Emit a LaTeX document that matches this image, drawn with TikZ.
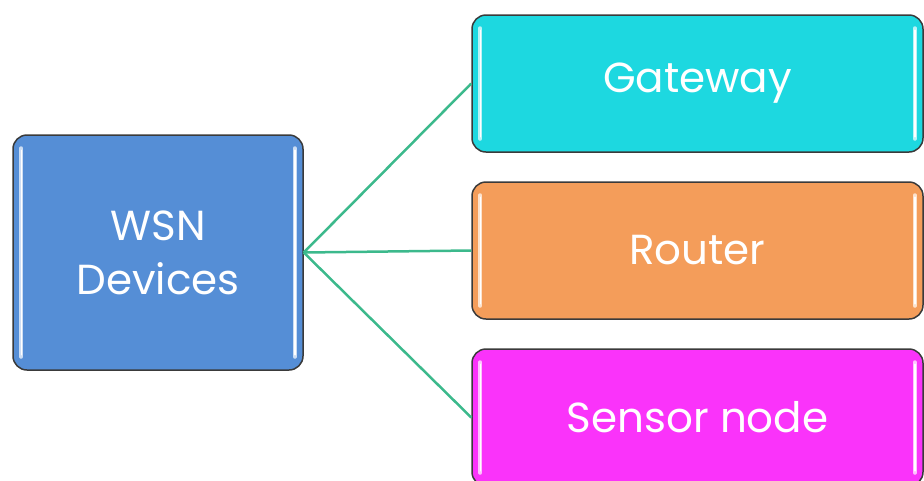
\documentclass[tikz,border=0pt]{standalone}
\usepackage{fontspec}
\setmainfont{Poppins}
\definecolor{wsnblue}{HTML}{558ED6}
\definecolor{gatecyan}{HTML}{1DD8E0}
\definecolor{routerorange}{HTML}{F49D5A}
\definecolor{sensormag}{HTML}{FA33FA}
\definecolor{connline}{HTML}{3CB98C}
\definecolor{boxline}{HTML}{3A3A3A}
\newcommand{\lowtext}[1]{\raisebox{-3pt}{#1}}
\begin{document}
\begin{tikzpicture}[x=1pt,y=-1pt,
  box/.style={draw=boxline, line width=1.5pt, rounded corners=14pt,
    minimum width=451pt, minimum height=137pt, text=white,
    font=\fontsize{42}{54}\selectfont, inner sep=0pt, align=center},
  conn/.style={draw=connline, line width=2.5pt},
  stripe/.style={line width=4pt, line cap=round},
  stripecore/.style={line width=1.5pt, line cap=round, draw=white}]
\useasboundingbox (0,0) rectangle (924,480);
\node[box, fill=wsnblue, minimum width=290pt, minimum height=235pt] (w) at (158,252.5) {WSN\\Devices};
\node[box, fill=gatecyan] (g) at (697.5,83.5) {\lowtext{Gateway}};
\node[box, fill=routerorange] (r) at (697.5,250.5) {\lowtext{Router}};
\node[box, fill=sensormag] (s) at (697.5,417.5) {\lowtext{Sensor node}};
\foreach \n/\c in {w/wsnblue, g/gatecyan, r/routerorange, s/sensormag}{
  \draw[stripe, draw=\c!30!white] ([xshift=9pt,yshift=-14pt]\n.north west) -- ([xshift=9pt,yshift=14pt]\n.south west);
  \draw[stripecore] ([xshift=9pt,yshift=-16pt]\n.north west) -- ([xshift=9pt,yshift=16pt]\n.south west);
  \draw[stripe, draw=\c!30!white] ([xshift=-9pt,yshift=-14pt]\n.north east) -- ([xshift=-9pt,yshift=14pt]\n.south east);
  \draw[stripecore] ([xshift=-9pt,yshift=-16pt]\n.north east) -- ([xshift=-9pt,yshift=16pt]\n.south east);
}
\draw[conn] (w.east) -- (g.west);
\draw[conn] (w.east) -- (r.west);
\draw[conn] (w.east) -- (s.west);
\end{tikzpicture}
\end{document}
